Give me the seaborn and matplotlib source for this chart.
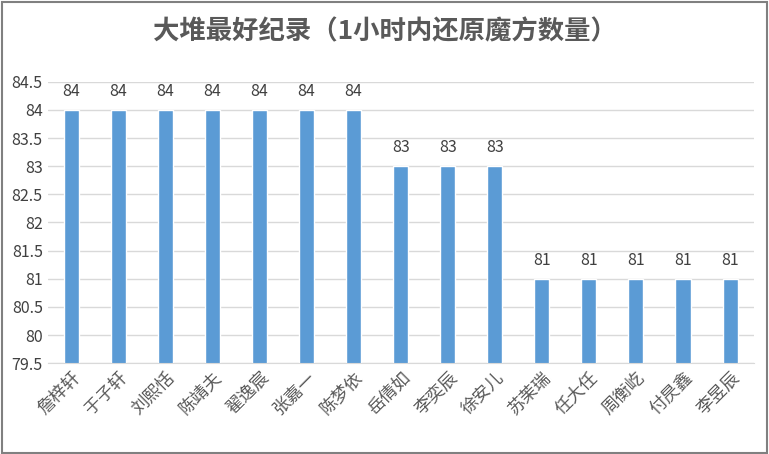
import matplotlib
matplotlib.use("Agg")
import matplotlib.pyplot as plt
import seaborn as sns

names = ["詹梓轩","于子轩","刘熙恬","陈靖夫","翟逸宸","张嘉一","陈梦依","岳倩如","李奕辰","徐安儿","苏茉瑞","任大任","周衡屹","付昃鑫","李昱辰"]
values = [84,84,84,84,84,84,84,83,83,83,81,81,81,81,81]
yticks = [79.5,80,80.5,81,81.5,82,82.5,83,83.5,84,84.5]
ytick_labels = ["79.5","80","80.5","81","81.5","82","82.5","83","83.5","84","84.5"]

sns.set_style("white")
plt.rcParams['font.family'] = ['Noto Sans CJK SC', 'DejaVu Sans']

fig = plt.figure(figsize=(7.69,4.54), dpi=100)
ax = fig.add_axes([0.062, 0.2, 0.918, 0.62])
sns.barplot(x=names, y=values, color="#5B9BD5", width=0.32, ax=ax, saturation=1)
ax.set_ylim(79.5, 84.5)
ax.set_yticks(yticks)
ax.set_yticklabels(ytick_labels, fontsize=11.5, color="#404040")
ax.yaxis.grid(True, color="#D9D9D9", lw=1)
ax.set_axisbelow(True)
for s in ["top","right","left"]:
    ax.spines[s].set_visible(False)
ax.spines["bottom"].set_color("#D9D9D9")
ax.tick_params(axis='both', length=0)
ax.set_xticks(range(len(names)))
ax.set_xticklabels(names, rotation=45, ha="right", rotation_mode="anchor", fontsize=12.5, color="#595959")
ax.set_xlim(-0.5, len(names)-0.5)
for i, v in enumerate(values):
    ax.text(i, v+0.18, str(v), ha="center", va="bottom", fontsize=11.5, color="#404040")
fig.text(0.5, 0.93, "大堆最好纪录（1小时内还原魔方数量）", ha="center", va="center", fontsize=19, fontweight="bold", color="#595959")
fig.add_artist(plt.Rectangle((0.002,0.003),0.995,0.993, transform=fig.transFigure, fill=False, ec="#808080", lw=1.5))
fig.savefig("out.png", dpi=100)
